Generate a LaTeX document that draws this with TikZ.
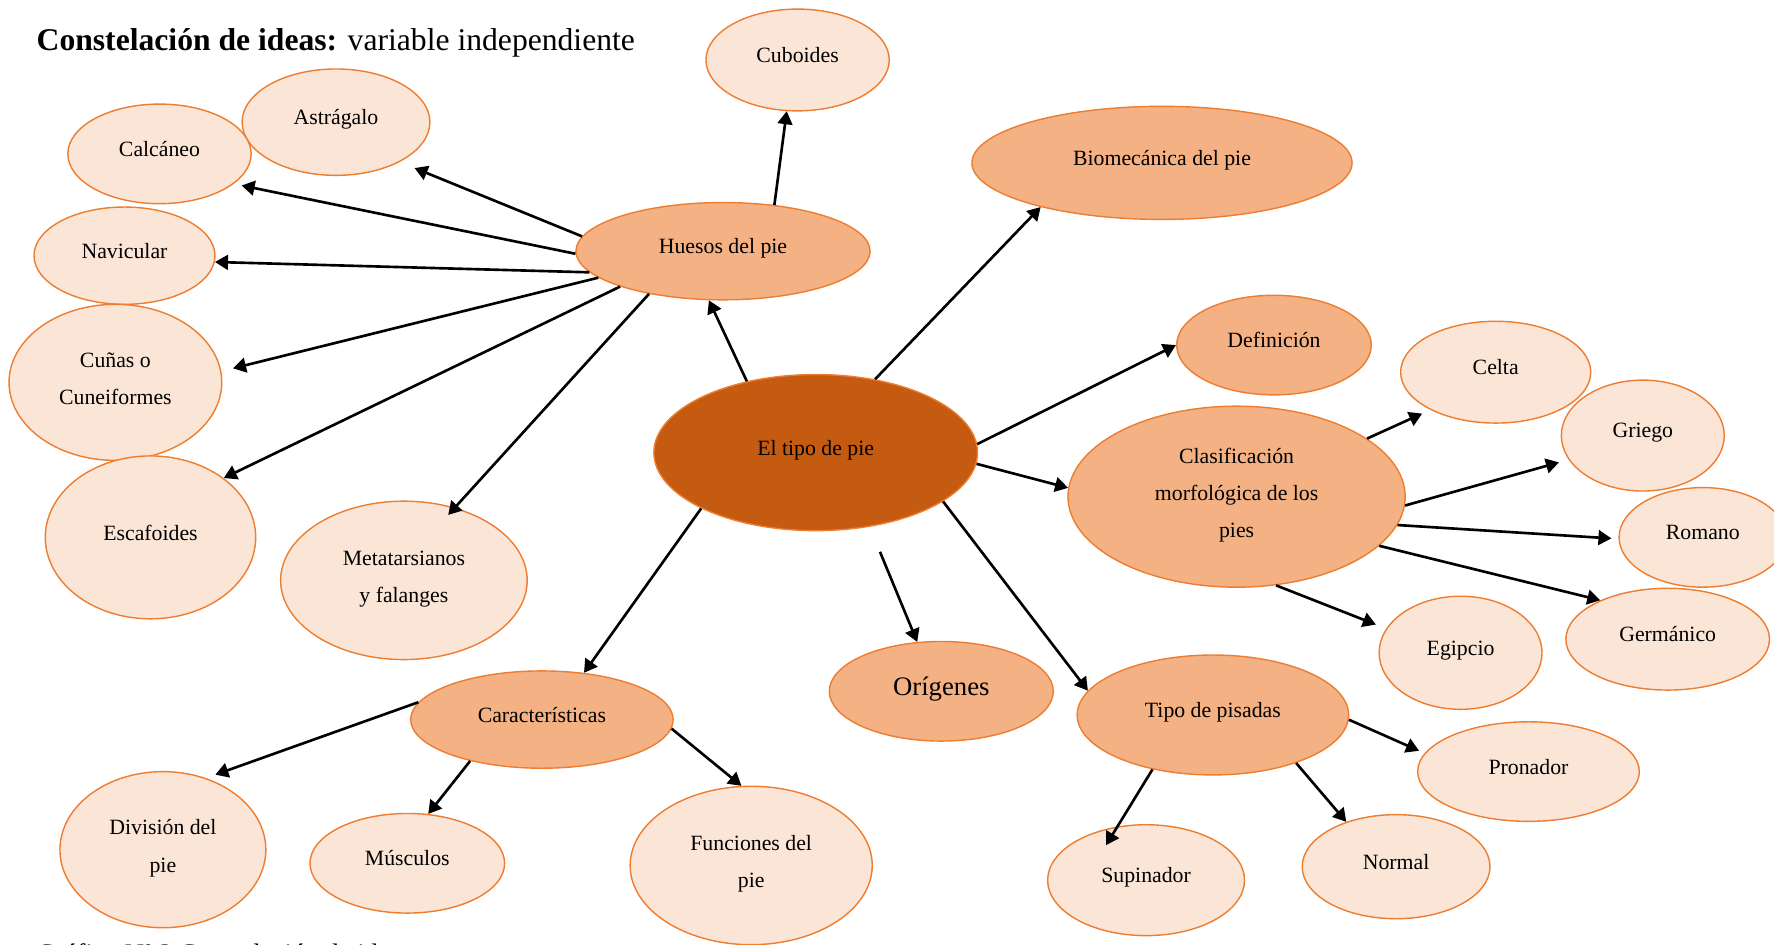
\documentclass[tikz,border=0pt]{standalone}
\usepackage{fontspec}
\setmainfont{Liberation Serif}
\usetikzlibrary{shapes.geometric,arrows.meta}

\definecolor{oscuro}{HTML}{C55A11}
\definecolor{medio}{HTML}{F4B183}
\definecolor{claro}{HTML}{FBE5D6}
\definecolor{borde}{HTML}{ED7D31}

\begin{document}
\begin{tikzpicture}[
    idea/.style={ellipse, draw=borde, line width=0.4pt, inner sep=0pt,
        font=\fontsize{6.2}{10.6}\selectfont, align=center, text depth=2.8pt},
    dos/.style={text depth=2.2pt},
    main/.style={idea, fill=oscuro},
    branch/.style={idea, fill=medio},
    leaf/.style={idea, fill=claro},
    arr/.style={-{Triangle[length=3.7pt,width=4.2pt]}, line width=0.75pt}
]
    \useasboundingbox (0,0) rectangle (17.74,9.45);

    % Title and caption
    \node[anchor=base west, inner sep=0pt, font=\fontsize{9}{11}\selectfont] (title) at (0.36,8.94)
        {\textbf{Constelación de ideas:} variable independiente};
    \node[anchor=base west, inner sep=0pt, font=\fontsize{7.6}{9}\selectfont] (caption) at (0.36,-0.18)
        {Gráfico Nº 2 Constelación de ideas};

    % Centre
    \node[main, minimum width=3.236cm, minimum height=1.561cm] (tipo) at (8.157,4.924) {El tipo de pie};

    % Second level
    \node[branch, minimum width=2.942cm, minimum height=0.973cm] (huesos) at (7.230,6.938) {Huesos del pie};
    \node[branch, minimum width=3.801cm, minimum height=1.131cm] (biomecanica) at (11.620,7.821) {Biomecánica del pie};
    \node[branch, minimum width=1.946cm, minimum height=0.996cm] (definicion) at (12.740,5.999) {Definición};
    \node[branch, dos, minimum width=3.372cm, minimum height=1.810cm] (clasificacion) at (12.366,4.483)
        {Clasificación\\morfológica de los\\pies};
    \node[branch, minimum width=2.240cm, minimum height=0.996cm, font=\fontsize{7.6}{9}\selectfont] (origenes) at (9.413,2.537) {Orígenes};
    \node[branch, minimum width=2.715cm, minimum height=1.199cm] (pisadas) at (12.129,2.300) {Tipo de pisadas};
    \node[branch, minimum width=2.625cm, minimum height=0.973cm] (caracteristicas) at (5.419,2.254) {Características};

    % Bones
    \node[leaf, minimum width=1.833cm, minimum height=1.018cm] (cuboides) at (7.976,8.850) {Cuboides};
    \node[leaf, minimum width=1.878cm, minimum height=1.064cm] (astragalo) at (3.360,8.228) {Astrágalo};
    \node[leaf, minimum width=1.833cm, minimum height=0.996cm] (calcaneo) at (1.595,7.911) {Calcáneo};
    \node[leaf, minimum width=1.810cm, minimum height=0.973cm] (navicular) at (1.245,6.893) {Navicular};
    \node[leaf, dos, minimum width=2.127cm, minimum height=1.561cm] (cunas) at (1.154,5.626) {Cuñas o\\Cuneiformes};
    \node[leaf, minimum width=2.104cm, minimum height=1.629cm] (escafoides) at (1.505,4.076) {Escafoides};
    \node[leaf, dos, minimum width=2.466cm, minimum height=1.584cm] (metatarsianos) at (4.039,3.646) {Metatarsianos\\y falanges};

    % Foot types
    \node[leaf, minimum width=1.901cm, minimum height=1.018cm] (celta) at (14.957,5.728) {Celta};
    \node[leaf, minimum width=1.629cm, minimum height=1.109cm] (griego) at (16.428,5.094) {Griego};
    \node[leaf, minimum width=1.674cm, minimum height=0.996cm] (romano) at (17.028,4.076) {Romano};
    \node[leaf, minimum width=2.036cm, minimum height=1.018cm] (germanico) at (16.677,3.058) {Germánico};
    \node[leaf, minimum width=1.629cm, minimum height=1.131cm] (egipcio) at (14.606,2.922) {Egipcio};

    % Footprints
    \node[leaf, minimum width=2.217cm, minimum height=0.996cm] (pronador) at (15.285,1.734) {Pronador};
    \node[leaf, minimum width=1.878cm, minimum height=1.041cm] (normal) at (13.961,0.783) {Normal};
    \node[leaf, minimum width=1.969cm, minimum height=1.109cm] (supinador) at (11.461,0.648) {Supinador};

    % Features
    \node[leaf, dos, minimum width=2.059cm, minimum height=1.561cm] (division) at (1.629,0.953) {División del\\pie};
    \node[leaf, minimum width=1.946cm, minimum height=0.996cm] (musculos) at (4.073,0.817) {Músculos};
    \node[leaf, dos, minimum width=2.421cm, minimum height=1.584cm] (funciones) at (7.512,0.795) {Funciones del\\pie};

    % Arrows from the centre
    \draw[arr] (tipo.134) -- (huesos.254);
    \draw[arr] (tipo.51) -- (biomecanica.200);
    \draw[arr] (tipo.3) -- (definicion.180);
    \draw[arr] (tipo.-4) -- (clasificacion.177);
    \draw[arr, shorten <=0.27cm] (tipo.-54) -- (origenes.116);
    \draw[arr] (tipo.-21) -- (pisadas.169);
    \draw[arr] (tipo.206) -- (caracteristicas.48);

    % Arrows to the bones
    \draw[arr] (huesos.42) -- (cuboides.258);
    \draw[arr, shorten >=0.16cm] (huesos.174) -- (astragalo.-32);
    \draw[arr, shorten >=0.08cm] (huesos.181) -- (calcaneo.-22);
    \draw[arr] (huesos.189) -- (navicular.-4);
    \draw[arr, shorten >=0.12cm] (huesos.192) -- (cunas.6);
    \draw[arr] (huesos.199) -- (escafoides.39);
    \draw[arr, shorten >=-0.1cm] (huesos.210) -- (metatarsianos.55);

    % Arrows to the foot types
    \draw[arr, shorten >=0.09cm] (clasificacion.24) -- (celta.210);
    \draw[arr, shorten >=0.1cm] (clasificacion.-3) -- (griego.198);
    \draw[arr, shorten >=0.07cm] (clasificacion.-10) -- (romano.181);
    \draw[arr] (clasificacion.-19) -- (germanico.150);
    \draw[arr, shorten >=0.11cm] (clasificacion.-66) -- (egipcio.162);

    % Arrows to the footprints
    \draw[arr, shorten >=0.06cm] (pisadas.-2) -- (pronador.170);
    \draw[arr] (pisadas.-30) -- (normal.138);
    \draw[arr, shorten >=-0.22cm] (pisadas.222) -- (supinador.118);

    % Arrows to the features
    \draw[arr, shorten >=0.1cm] (caracteristicas.172) -- (division.59);
    \draw[arr] (caracteristicas.210) -- (musculos.67);
    \draw[arr] (caracteristicas.-4) -- (funciones.97);
\end{tikzpicture}
\end{document}
